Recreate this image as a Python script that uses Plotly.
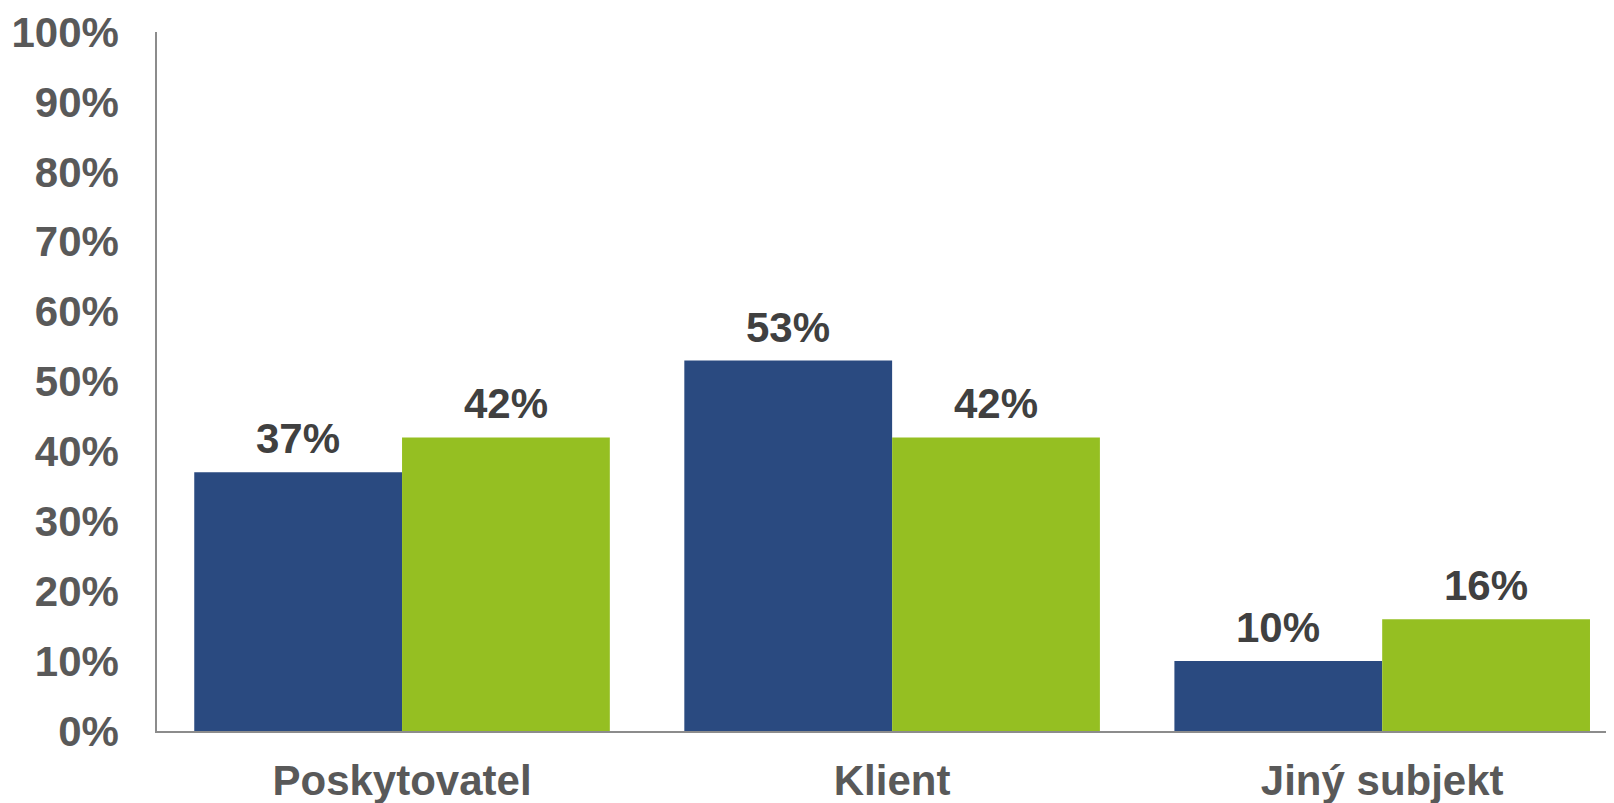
import plotly.graph_objects as go

categories = ["Poskytovatel", "Klient", "Jiný subjekt"]
series_a = [37, 53, 10]
series_b = [42, 42, 16]
y_ticks = list(range(0, 101, 10))
y_tick_labels = [f"{v}%" for v in y_ticks]

FONT = "Liberation Sans, Arial, sans-serif"
BLUE = "#2A4A80"
GREEN = "#95BF22"
BAR_W = 0.424

xpos = list(range(len(categories)))

fig = go.Figure()
for vals, col, off in [(series_a, BLUE, -BAR_W), (series_b, GREEN, 0.0)]:
    fig.add_trace(go.Bar(
        x=xpos, y=vals, width=BAR_W, offset=off,
        marker=dict(color=col, line=dict(width=0)),
        showlegend=False, hoverinfo="y",
    ))
    for xi, v in zip(xpos, vals):
        fig.add_annotation(
            x=xi + off + BAR_W / 2, y=v, xref="x", yref="y",
            text=f"<b>{v}%</b>", showarrow=False, yanchor="bottom",
            yshift=8, font=dict(family=FONT, size=42, color="#404040"),
        )

# page body has an 8px default margin; size the figure to fit the window
fig.update_layout(
    width=1606, height=795,
    margin=dict(l=149, r=0, t=24, b=72),
    barmode="overlay",
    plot_bgcolor="white", paper_bgcolor="white",
    font=dict(family=FONT),
)
fig.update_xaxes(
    range=[-0.5, 2.473], showline=True, linecolor="#8C8C8C", linewidth=1.5,
    ticks="", showgrid=False, zeroline=False, ticklabelstandoff=12, automargin=False,
    tickfont=dict(family=FONT, size=42, color="#595959"),
    tickvals=xpos, ticktext=[f"<b>{c}</b>" for c in categories],
)
fig.update_yaxes(
    range=[0, 100], showline=True, linecolor="#8C8C8C", linewidth=1.5,
    showgrid=False, zeroline=False, ticks="", automargin=False,
    tickvals=y_ticks, ticktext=[f"<b>{t}</b>" for t in y_tick_labels],
    tickfont=dict(family=FONT, size=42, color="#595959"),
    ticklabelstandoff=28,
)
fig.write_html("out.html")
